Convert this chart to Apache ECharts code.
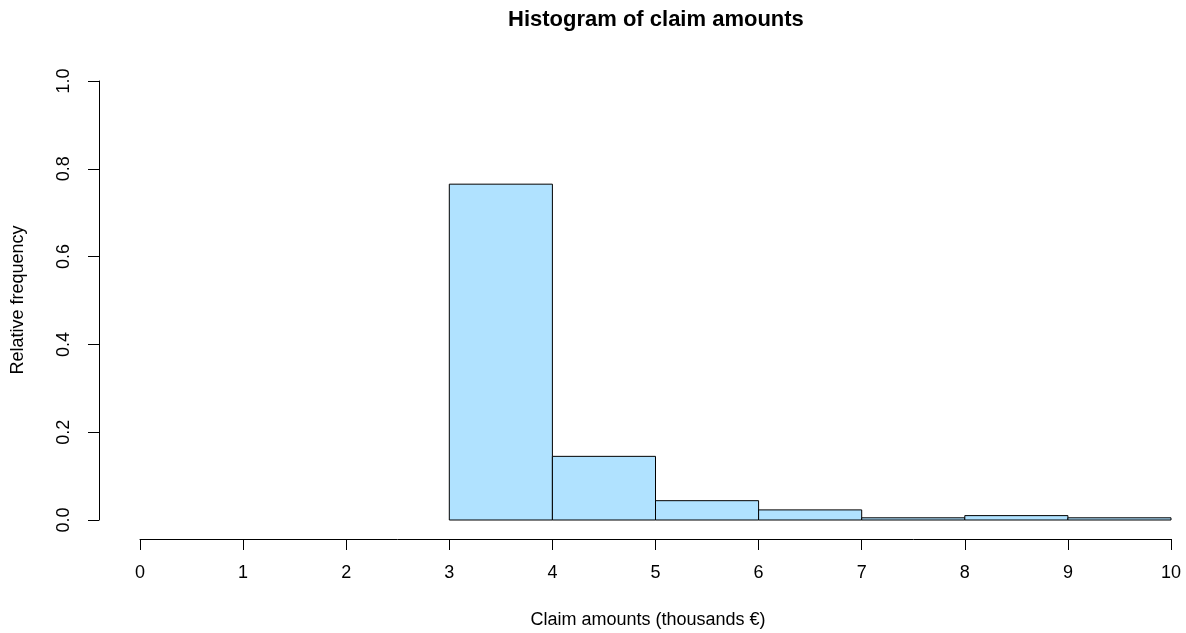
<!DOCTYPE html>
<html>
<head>
<meta charset="utf-8">
<title>Histogram of claim amounts</title>
<script src="https://cdn.jsdelivr.net/npm/echarts@6/dist/echarts.min.js"></script>
<style>
  html, body { margin: 0; padding: 0; background: #fff; }
  #chart { width: 1186px; height: 633px; }
</style>
</head>
<body>
<div id="chart"></div>
<script>
// histogram bins (thousands €) and relative frequencies
var binStart = [3, 4, 5, 6, 7, 8, 9]
var binEnd = [4, 5, 6, 7, 8, 9, 10]
var relFreq = [0.765, 0.145, 0.044, 0.023, 0.005, 0.010, 0.005]

var xTicks = [0, 1, 2, 3, 4, 5, 6, 7, 8, 9, 10]
var yTicks = [0.0, 0.2, 0.4, 0.6, 0.8, 1.0]

var font = 'Liberation Sans, Arial, sans-serif'

var bins = binStart.map(function (s, i) {
    return [s, binEnd[i], relFreq[i]]
})

var chart = echarts.init(document.getElementById('chart'))
chart.setOption({
    animation: false,
    backgroundColor: '#ffffff',
    title: {
        text: 'Histogram of claim amounts',
        left: 503,
        top: 4,
        textStyle: {
            fontFamily: font,
            fontSize: 22,
            fontWeight: 'bold',
            color: '#000'
        }
    },
    grid: {
        left: 140,
        right: 15,
        top: 81,
        bottom: 113
    },
    xAxis: {
        type: 'value',
        min: xTicks[0],
        max: xTicks[xTicks.length - 1],
        interval: 1,
        offset: 19,
        splitLine: { show: false },
        axisLine: { show: true, onZero: false, lineStyle: { color: '#000', width: 1 } },
        axisTick: { show: true, length: 11, lineStyle: { color: '#000' } },
        axisLabel: {
            margin: 25,
            fontFamily: font,
            fontSize: 18,
            color: '#000'
        }
    },
    yAxis: {
        type: 'value',
        min: yTicks[0],
        max: yTicks[yTicks.length - 1],
        interval: 0.2,
        offset: 41,
        splitLine: { show: false },
        axisLine: { show: true, onZero: false, lineStyle: { color: '#000', width: 1 } },
        axisTick: { show: true, length: 11, lineStyle: { color: '#000' } },
        axisLabel: {
            rotate: 90,
            margin: 26,
            fontFamily: font,
            fontSize: 18,
            color: '#000',
            formatter: function (v) { return v.toFixed(1) }
        }
    },
    graphic: [
        {
            type: 'text',
            x: 648,
            y: 620,
            style: {
                text: 'Claim amounts (thousands €)',
                font: '18px ' + font,
                fill: '#000',
                align: 'center',
                verticalAlign: 'middle'
            }
        },
        {
            type: 'text',
            x: 18,
            y: 300,
            rotation: Math.PI / 2,
            style: {
                text: 'Relative frequency',
                font: '18px ' + font,
                fill: '#000',
                align: 'center',
                verticalAlign: 'middle'
            }
        }
    ],
    series: [
        {
            type: 'custom',
            data: bins,
            encode: { x: [0, 1], y: 2 },
            renderItem: function (params, api) {
                var p0 = api.coord([api.value(0), api.value(2)])
                var p1 = api.coord([api.value(1), 0])
                return {
                    type: 'rect',
                    shape: {
                        x: p0[0],
                        y: p0[1],
                        width: p1[0] - p0[0],
                        height: p1[1] - p0[1]
                    },
                    style: {
                        fill: '#b0e2ff',
                        stroke: '#000',
                        lineWidth: 1
                    }
                }
            }
        }
    ]
})
</script>
</body>
</html>
